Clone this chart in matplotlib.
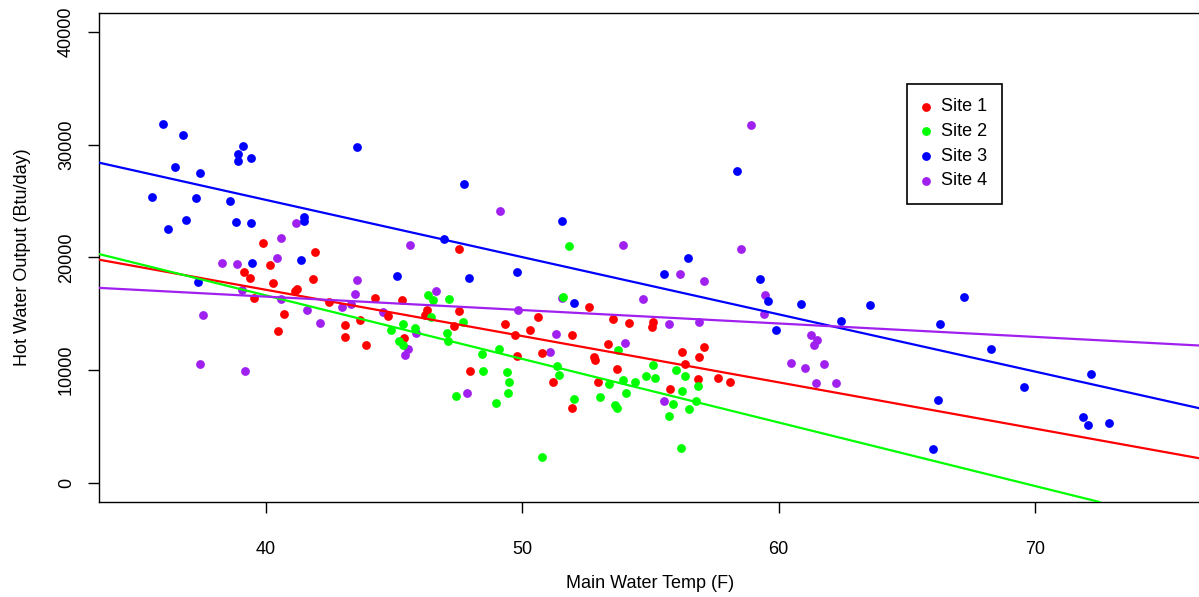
#!/usr/bin/env python3

import matplotlib
matplotlib.use("Agg")
import matplotlib.pyplot as plt

plt.rcParams['font.family'] = ['Liberation Sans', 'DejaVu Sans']

# Site 1 (red)
site1_temp = [39.86, 41.91, 40.14, 39.15, 39.39, 41.82, 40.28, 41.21, 41.13, 39.53,
              42.47, 44.25, 45.29, 40.71, 43.68, 44.77, 43.08, 40.47, 43.07, 43.89,
              47.53, 46.27, 46.20, 47.53, 50.62, 47.35, 49.31, 49.73, 50.30, 51.93,
              45.40, 52.59, 53.55, 53.33, 49.79, 50.76, 52.80, 52.85, 47.95, 53.68,
              51.19, 52.97, 51.93, 54.15, 55.11, 55.06, 56.24, 57.09, 56.89, 56.33,
              56.86, 57.64, 58.12, 55.76]
site1_out = [21301, 20443, 19293, 18735, 18142, 18112, 17727, 17230, 16992, 16399,
             16045, 16434, 16257, 15019, 14488, 14806, 13983, 13514, 12921, 12275,
             20771, 15311, 14868, 15222, 14718, 13957, 14098, 13125, 13540, 13125,
             12832, 15603, 14574, 12302, 11266, 11532, 11178, 10886, 9939, 10151,
             8965, 8965, 6664, 14160, 14308, 13833, 11655, 12036, 11178, 10558,
             9204, 9319, 9000, 8346]

# Site 2 (green)
site2_temp = [46.33, 46.53, 47.15, 51.57, 51.83, 46.43, 47.70, 45.33, 45.81, 44.87,
              47.04, 47.11, 45.18, 45.33, 49.10, 48.43, 53.75, 48.48, 49.40, 51.34,
              51.42, 49.49, 53.37, 49.45, 47.40, 48.97, 52.02, 53.04, 53.62, 53.71,
              50.77, 55.11, 56.01, 54.84, 55.18, 56.35, 53.92, 54.41, 56.84, 56.24,
              54.03, 55.87, 56.77, 56.52, 55.72, 56.18]
site2_out = [16638, 16257, 16284, 16488, 20975, 14718, 14249, 14098, 13744, 13540,
             13337, 12567, 12567, 12213, 11921, 11417, 11770, 9939, 9824, 10355,
             9585, 8965, 8762, 7992, 7700, 7054, 7408, 7585, 6903, 6638,
             2274, 10443, 10027, 9470, 9293, 9470, 9116, 8965, 8646, 8142,
             7992, 7018, 7284, 6549, 5903, 3124]

# Site 3 (blue)
site3_temp = [35.97, 36.77, 39.11, 38.92, 38.92, 39.40, 43.56, 36.44, 37.42, 35.55,
              37.28, 38.60, 41.49, 41.46, 36.87, 36.16, 38.83, 39.40, 39.44, 41.35,
              37.36, 47.73, 51.56, 46.95, 45.11, 47.91, 49.78, 52.02, 58.39, 56.48,
              55.54, 59.29, 59.59, 60.87, 62.42, 59.90, 63.55, 67.25, 66.31, 68.27,
              72.20, 69.57, 66.22, 71.88, 72.06, 72.90, 66.04]
site3_out = [31834, 30886, 29913, 29178, 28585, 28851, 29824, 28027, 27497, 25338,
             25250, 25015, 23568, 23187, 23335, 22479, 23098, 23010, 19497, 19797,
             17815, 26523, 23214, 21621, 18320, 18204, 18735, 15992, 27674, 19912,
             18558, 18112, 16134, 15868, 14399, 13540, 15780, 16523, 14071, 11921,
             9708, 8523, 7372, 5868, 5133, 5337, 3009]

# Site 4 (purple)
site4_temp = [41.16, 40.60, 40.42, 38.27, 38.87, 43.56, 49.13, 45.62, 46.61, 53.94,
              58.91, 56.14, 57.09, 58.53, 54.70, 59.47, 59.42, 55.72, 56.89, 61.28,
              61.51, 61.38, 53.99, 60.49, 61.02, 61.77, 61.45, 62.23, 55.53, 51.53,
              44.55, 49.82, 45.85, 51.31, 45.55, 45.42, 51.09, 47.85, 39.05, 43.45,
              40.60, 42.95, 43.30, 37.53, 41.59, 42.11, 37.41, 39.19]
site4_out = [23010, 21744, 19940, 19497, 19408, 18024, 24072, 21090, 17054, 21090,
             31745, 18558, 17904, 20771, 16311, 16638, 14956, 14071, 14308, 13160,
             12717, 12213, 12390, 10682, 10240, 10558, 8877, 8877, 7284, 16399,
             15134, 15373, 13302, 13248, 11921, 11328, 11655, 7992, 17081, 16727,
             16284, 15576, 15868, 14930, 15337, 14187, 10558, 9939]

# fitted lines (intercept at 0 F, slope per F)
line_intercepts = [33527, 39149, 45374, 21284]
line_slopes = [-410, -563, -507, -119]

site_names = ["Site 1", "Site 2", "Site 3", "Site 4"]
site_colors = ["#FF0000", "#00FF00", "#0000FF", "#A020F0"]

xticks = [40, 50, 60, 70]
yticks = [0, 10000, 20000, 30000, 40000]

W, H = 1199, 597
fig = plt.figure(figsize=(W / 100, H / 100), dpi=100)
left, right, top, bottom = 98.5, 1201, 12.6, 502
ax = fig.add_axes([left / W, 1 - bottom / H, (right - left) / W, (bottom - top) / H])

temps = [site1_temp, site2_temp, site3_temp, site4_temp]
outs = [site1_out, site2_out, site3_out, site4_out]

handles = []
for i in [3, 0, 1, 2]:
    h = ax.scatter(temps[i], outs[i], s=40, color=site_colors[i], linewidths=0, zorder=2)
    handles.append((i, h))

for i in range(4):
    ax.axline((0, line_intercepts[i]), slope=line_slopes[i], color=site_colors[i],
              lw=1.6, zorder=3)

ax.set_xlim(33.46, 76.48)
ax.set_ylim(-1680, 41700)
ax.set_xticks(xticks)
ax.set_yticks(yticks)
ax.set_yticklabels([str(v) for v in yticks], rotation=90, va='center')
ax.tick_params(direction='out', length=8, width=1, labelsize=13, color='black')
ax.tick_params(axis='x', pad=20)
ax.tick_params(axis='y', pad=9)
for s in ax.spines.values():
    s.set_linewidth(1)
    s.set_color('black')

ax.set_xlabel("Main Water Temp (F)", fontsize=13, labelpad=12.5)
ax.set_ylabel("Hot Water Output (Btu/day)", fontsize=13, labelpad=19)

handles.sort(key=lambda t: t[0])
leg = ax.legend([h for _, h in handles], site_names, loc='upper left',
                bbox_to_anchor=(0.7333, 0.854), borderaxespad=0, fontsize=13,
                frameon=True, fancybox=False, edgecolor='black', framealpha=1,
                handlelength=0.5, handletextpad=0.6, borderpad=0.8, labelspacing=0.42,
                scatterpoints=1)
leg.get_frame().set_linewidth(1.2)

plt.savefig("out.png", dpi=100)
